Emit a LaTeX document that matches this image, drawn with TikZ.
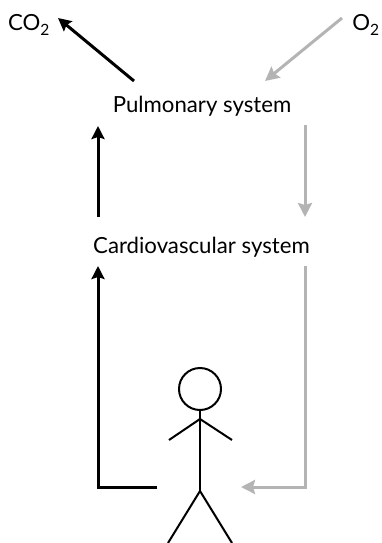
\documentclass[tikz,border=0pt]{standalone}
\usepackage{fontspec}
\setmainfont{Lato}
\usepackage{tikz}
\usetikzlibrary{positioning,arrows.meta,calc}
\definecolor{o2gray}{HTML}{B4B4B4}

\begin{document}
\begin{tikzpicture}[
    x=1pt,y=-1pt,
    font=\fontsize{22.2}{26}\selectfont,
    label/.style={inner sep=0pt,anchor=center},
    co2line/.style={-{Stealth[length=13pt,width=13pt,inset=2pt]},line width=3pt,black},
    o2line/.style={-{Stealth[length=14pt,width=14pt,inset=2pt]},line width=3pt,o2gray},
    figureline/.style={line width=2pt,black}
]
  \useasboundingbox (0,0) rectangle (381,543);
  \node[label] (co2) at (29,25) {CO\textsubscript{2}};
  \node[label] (o2) at (366,25) {O\textsubscript{2}};
  \node[label] (pulmonary) at (202,106) {Pulmonary system};
  \node[label] (cardio) at (201.5,247) {Cardiovascular system};
  \coordinate (co2start) at (134,81);
  \coordinate (co2end) at (58,18);
  \coordinate (o2start) at (342,18);
  \coordinate (o2end) at (265,81);
  \coordinate (pulmonaryin) at (98,217);
  \coordinate (pulmonaryout) at (98,126);
  \coordinate (pulmonarydown) at (305,125);
  \coordinate (cardiotop) at (305,217);
  \coordinate (cardioin) at (98,266);
  \coordinate (bodyout) at (157,487);
  \coordinate (cardioout) at (305,266);
  \coordinate (bodyin) at (241,487);

  \draw[co2line] (co2start) -- (co2end);
  \draw[o2line] (o2start) -- (o2end);
  \draw[co2line] (pulmonaryin) -- (pulmonaryout);
  \draw[o2line] (pulmonarydown) -- (cardiotop);
  \draw[co2line] (bodyout) -- (98,487) -- (cardioin);
  \draw[o2line] (cardioout) -- (305,487) -- (bodyin);

  % stick figure
  \node[draw,circle,figureline,minimum size=42pt,inner sep=0pt] (head) at (200,389) {};
  \coordinate (hip) at (200,491);
  \draw[figureline] (head) -- (hip);
  \draw[figureline] (169,440) -- (200,419) -- (232,440);
  \draw[figureline] (168,543) -- (hip) -- (232,543);
\end{tikzpicture}
\end{document}
